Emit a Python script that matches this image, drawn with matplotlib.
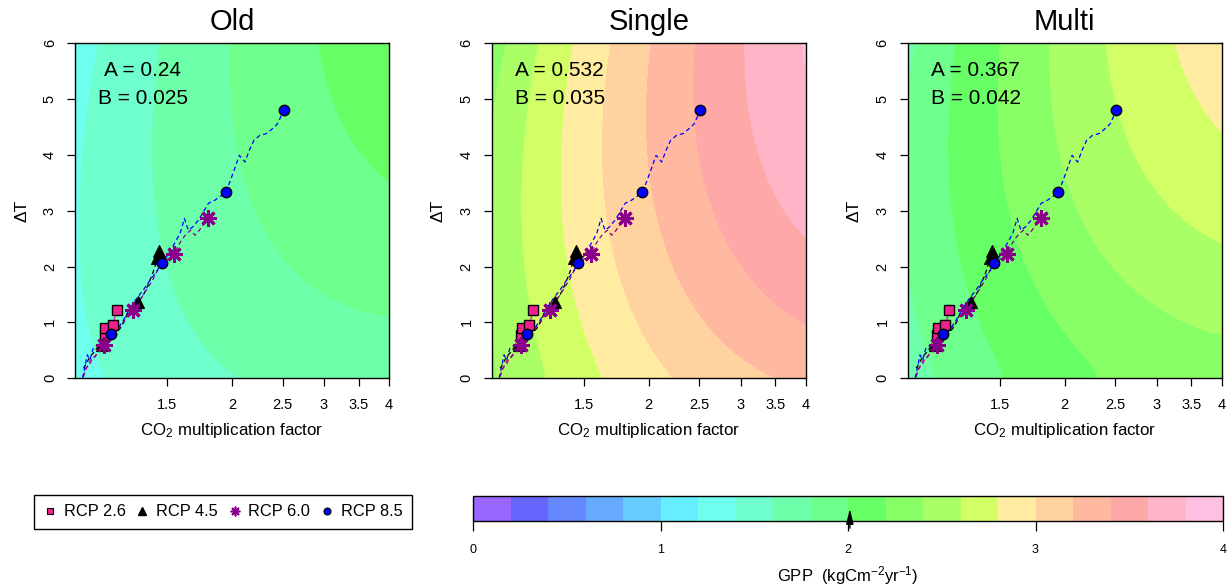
import numpy as np
import matplotlib
matplotlib.use("Agg")
import matplotlib.pyplot as plt
from matplotlib.lines import Line2D
from matplotlib.ticker import NullLocator

plt.rcParams["font.family"] = ["Liberation Sans", "DejaVu Sans"]
plt.rcParams["mathtext.fontset"] = "custom"
plt.rcParams["mathtext.rm"] = "Liberation Sans"
plt.rcParams["mathtext.it"] = "Liberation Sans:italic"
plt.rcParams["mathtext.bf"] = "Liberation Sans:bold"

# ---------------------------------------------------------------- data
panel_names = ["Old", "Single", "Multi"]
param_A = [0.24, 0.532, 0.367]
param_B = [0.025, 0.035, 0.042]

# GPP isoline samples (level, CO2 factor, dT) for each parameterisation
old_level = [1.4, 1.4, 1.4, 1.4, 1.4,
             1.6, 1.6, 1.6, 1.6, 1.6, 1.6, 1.6,
             1.8, 1.8, 1.8, 1.8,
             2.0, 2.0, 2.0]
old_co2 = [1.150, 1.06, 1.022, 1.045, 1.108,
           2.117, 1.87, 1.686, 1.52, 1.445, 1.433, 1.455,
           4.0, 2.61, 2.075, 1.99,
           4.0, 3.22, 2.91]
old_dT = [0.0, 1.06, 2.56, 4.35, 6.0,
          0.0, 0.47, 0.95, 1.61, 2.32, 4.35, 6.0,
          1.06, 1.96, 3.75, 6.0,
          3.63, 4.65, 6.0]

single_level = [2.4, 2.4,
                2.6, 2.6, 2.6, 2.6,
                2.8, 2.8, 2.8, 2.8,
                3.0, 3.0, 3.0, 3.0,
                3.2, 3.2, 3.2, 3.2,
                3.4, 3.4, 3.4,
                3.6, 3.6,
                3.8]
single_co2 = [1.0, 1.038,
              1.265, 1.22, 1.141, 1.246,
              1.637, 1.544, 1.362, 1.445,
              2.248, 2.07, 1.649, 1.711,
              3.418, 2.99, 2.012, 2.04,
              4.0, 2.51, 2.455,
              4.0, 3.037,
              3.955]
single_dT = [3.6, 6.0,
             0.0, 0.47, 3.16, 6.0,
             0.0, 0.47, 3.16, 6.0,
             0.0, 0.47, 3.16, 6.0,
             0.0, 0.47, 3.16, 6.0,
             1.0, 3.46, 6.0,
             2.56, 6.0,
             6.0]

multi_level = [1.8, 1.8,
               2.0, 2.0, 2.0, 2.0,
               2.2, 2.2, 2.2,
               2.4, 2.4, 2.4,
               2.6, 2.6,
               2.8, 2.8]
multi_co2 = [1.119, 1.0,
             1.537, 1.357, 1.214, 1.232,
             2.248, 1.537, 1.514,
             4.0, 2.032, 1.889,
             4.0, 2.406,
             4.0, 3.209]
multi_dT = [0.0, 1.79,
            0.0, 1.37, 3.76, 6.0,
            0.0, 3.16, 6.0,
            0.72, 3.16, 6.0,
            2.5, 6.0,
            4.47, 6.0]

# Scenario trajectories (CO2 multiplication factor, global warming)
rcp26_co2 = [1.034, 1.045, 1.056, 1.068, 1.081, 1.097, 1.113, 1.125, 1.137,
             1.147, 1.159, 1.170, 1.181, 1.188, 1.198]
rcp26_dT = [0.03, 0.12, 0.21, 0.24, 0.36, 0.42, 0.51, 0.60, 0.74,
            0.83, 0.89, 1.01, 0.92, 1.05, 1.16]
rcp45_co2 = [1.038, 1.053, 1.068, 1.084, 1.108, 1.133, 1.167, 1.193, 1.220,
             1.247, 1.265, 1.294, 1.323, 1.352, 1.376, 1.397, 1.413, 1.423,
             1.439, 1.447]
rcp45_dT = [0.18, 0.27, 0.39, 0.45, 0.57, 0.63, 0.69, 0.80, 0.89,
            1.04, 1.22, 1.31, 1.37, 1.49, 1.64, 1.79, 1.91, 2.00,
            2.12, 2.23]
rcp60_co2 = [1.038, 1.050, 1.061, 1.072, 1.088, 1.104, 1.137, 1.159, 1.184,
             1.211, 1.238, 1.290, 1.323, 1.352, 1.383, 1.409, 1.435, 1.466,
             1.499, 1.548, 1.578, 1.608, 1.637, 1.667, 1.699, 1.732, 1.763,
             1.802]
rcp60_dT = [0.03, 0.18, 0.24, 0.33, 0.36, 0.45, 0.60, 0.69, 0.80,
            0.89, 1.01, 1.22, 1.37, 1.49, 1.64, 1.76, 1.91, 2.03,
            2.13, 2.22, 2.38, 2.50, 2.59, 2.65, 2.56, 2.65, 2.76,
            2.87]
rcp85_co2 = [1.034, 1.045, 1.056, 1.068, 1.084, 1.108, 1.133, 1.171, 1.202,
             1.238, 1.275, 1.313, 1.352, 1.393, 1.434, 1.466, 1.499, 1.544,
             1.590, 1.621, 1.649, 1.682, 1.724, 1.763, 1.802, 1.856, 1.902,
             1.945, 1.982, 2.018, 2.066, 2.118, 2.159, 2.204, 2.263, 2.331,
             2.393, 2.443, 2.472, 2.512]
rcp85_dT = [0.00, 0.21, 0.42, 0.33, 0.54, 0.60, 0.69, 0.79, 0.86,
            1.04, 1.25, 1.43, 1.58, 1.76, 1.91, 2.07, 2.18, 2.38,
            2.59, 2.86, 2.65, 2.71, 2.83, 2.98, 3.13, 3.19, 3.26,
            3.33, 3.52, 3.72, 3.99, 3.87, 4.08, 4.26, 4.35, 4.38,
            4.47, 4.55, 4.65, 4.80]

# Period means marked on each trajectory
rcp26_pts_co2 = [1.140, 1.143, 1.181, 1.202]
rcp26_pts_dT = [0.77, 0.90, 0.95, 1.23]
rcp45_pts_co2 = [1.128, 1.323, 1.437, 1.452]
rcp45_pts_dT = [0.60, 1.37, 2.15, 2.28]
rcp60_pts_co2 = [1.137, 1.294, 1.548, 1.802]
rcp60_pts_dT = [0.59, 1.22, 2.22, 2.87]
rcp85_pts_co2 = [1.171, 1.466, 1.945, 2.512]
rcp85_pts_dT = [0.79, 2.07, 3.33, 4.80]

gpp_present = 2.01

gpp_levels = np.round(np.arange(0.0, 4.0001, 0.2), 1)
gpp_colours = ["#9966FF", "#6666FF", "#6688FF", "#66AAFF", "#66CCFF",
               "#66EEFF", "#6EFFEE", "#6EFFCC", "#6EFFAA", "#6EFF8C",
               "#66FF66", "#88FF66", "#AAFF66", "#D2FF66", "#FFECA0",
               "#FFD2A0", "#FFB9A0", "#FFA8A8", "#FFB4C8", "#FFC0E1"]

x_ticks = [1.5, 2, 2.5, 3, 3.5, 4]
x_tick_labels = ["1.5", "2", "2.5", "3", "3.5", "4"]
y_ticks = [0, 1, 2, 3, 4, 5, 6]

# ---------------------------------------------------------------- helpers
def _basis(u, t, s):
    # ln(CO2) up to second order, warming with a saturating sqrt term
    return np.stack([np.ones_like(u), u, t, u * u, t * t, u * t, s, u * s], axis=-1)

def response_surface(level, co2, dT):
    """Smooth GPP response in ln(CO2) and dT through the isoline samples."""
    u = np.log(np.asarray(co2, float))
    t = np.asarray(dT, float)
    X = _basis(u, t, np.sqrt(t))
    coef = np.linalg.lstsq(X, np.asarray(level, float), rcond=None)[0]

    def gpp(c, temp):
        return _basis(np.log(c), temp, np.sqrt(temp)) @ coef
    return gpp

surfaces = [response_surface(old_level, old_co2, old_dT),
            response_surface(single_level, single_co2, single_dT),
            response_surface(multi_level, multi_co2, multi_dT)]

scenarios = [
    ("RCP 2.6", rcp26_co2, rcp26_dT, rcp26_pts_co2, rcp26_pts_dT,
     "#FF1493", dict(marker="s", ms=6.5, mfc="#F0208C", mec="black", mew=1.0)),
    ("RCP 4.5", rcp45_co2, rcp45_dT, rcp45_pts_co2, rcp45_pts_dT,
     "black", dict(marker="^", ms=8.5, mfc="black", mec="black", mew=0.8)),
    ("RCP 6.0", rcp60_co2, rcp60_dT, rcp60_pts_co2, rcp60_pts_dT,
     "#8B008B", dict(marker=(8, 2, 0), ms=12, mfc="#8B008B", mec="#8B008B", mew=2.2)),
    ("RCP 8.5", rcp85_co2, rcp85_dT, rcp85_pts_co2, rcp85_pts_dT,
     "#0000FF", dict(marker="o", ms=7.5, mfc="#0000FF", mec="black", mew=1.0)),
]

# ---------------------------------------------------------------- figure
W, H = 1232, 587
fig = plt.figure(figsize=(W / 100, H / 100), dpi=100)

def fig_rect(left, top, right, bottom):
    return [left / W, 1 - bottom / H, (right - left) / W, (bottom - top) / H]

panel_lefts = [75.0, 491.7, 907.7]
cgrid = np.geomspace(1.0, 4.0, 500)
tgrid = np.linspace(0.0, 6.0, 500)
CC, TT = np.meshgrid(cgrid, tgrid)

cs = None
for i, name in enumerate(panel_names):
    left = panel_lefts[i]
    ax = fig.add_axes(fig_rect(left, 43, left + 314, 378.3))
    Z = np.clip(surfaces[i](CC, TT), 0.001, 3.999)
    cs = ax.contourf(CC, TT, Z, levels=gpp_levels, colors=gpp_colours)

    for label, lc, lt, pc, pt, colour, mk in scenarios:
        ax.plot(lc, lt, color=colour, lw=0.9, ls=(0, (3.5, 2.5)), zorder=3)
    for label, lc, lt, pc, pt, colour, mk in scenarios:
        ax.plot(pc, pt, ls="none", zorder=4, **mk)

    ax.set_xscale("log")
    ax.set_xlim(1.0, 4.0)
    ax.set_ylim(0, 6)
    ax.set_xticks(x_ticks)
    ax.set_xticklabels(x_tick_labels)
    ax.xaxis.set_minor_locator(NullLocator())
    ax.set_yticks(y_ticks)
    ax.tick_params(axis="both", direction="out", length=6, width=0.9,
                   labelsize=10.5, color="black")
    ax.tick_params(axis="x", pad=8)
    ax.tick_params(axis="y", pad=7, labelrotation=90)
    for lab in ax.get_yticklabels():
        lab.set_va("center")
    for sp in ax.spines.values():
        sp.set_linewidth(1.0)
        sp.set_color("black")

    ax.set_title(name, fontsize=21, pad=9)
    ax.set_xlabel("CO$_2$ multiplication factor", fontsize=12.2, labelpad=7)
    ax.set_ylabel("\u0394T", fontsize=12.5, labelpad=10)

    ax.text(1.35, 5.5, f"A = {param_A[i]:g}", fontsize=15, ha="center",
            va="center", zorder=5)
    ax.text(1.35, 5.0, f"B = {param_B[i]:g}", fontsize=15, ha="center",
            va="center", zorder=5)

# ---------------------------------------------------------------- legend
handles = [Line2D([], [], ls="none", marker="s", ms=5, mfc="#F0208C", mec="black", mew=0.8),
           Line2D([], [], ls="none", marker="^", ms=5.5, mfc="black", mec="black"),
           Line2D([], [], ls="none", marker=(8, 2, 0), ms=7, mec="#8B008B", mew=1.2),
           Line2D([], [], ls="none", marker="o", ms=5, mfc="#0000FF", mec="black", mew=0.8)]
labels = [s[0] for s in scenarios]
leg = fig.legend(handles, labels, ncol=4, loc="center",
                 bbox_to_anchor=(223 / W, 1 - 512 / H), fontsize=11.8,
                 frameon=True, fancybox=False, edgecolor="black", framealpha=1,
                 handlelength=0.8, handletextpad=0.45, columnspacing=0.6,
                 borderpad=0.6, borderaxespad=0)
leg.get_frame().set_linewidth(1.0)

# ---------------------------------------------------------------- colour bar
cax = fig.add_axes(fig_rect(473, 495.5, 1223, 520.5))
cb = fig.colorbar(cs, cax=cax, orientation="horizontal", ticks=[0, 1, 2, 3, 4])
cb.outline.set_linewidth(1.0)
cb.outline.set_edgecolor("black")
cax.tick_params(axis="x", direction="out", length=7, width=0.9, labelsize=9, pad=10)
cax.set_xticklabels(["0", "1", "2", "3", "4"])
cb.set_label("GPP  (kgCm$^{-2}$yr$^{-1}$)", fontsize=12, labelpad=6)
cax.annotate("", xy=(gpp_present, 0.58), xycoords=("data", "axes fraction"),
             xytext=(gpp_present, -0.42), textcoords=("data", "axes fraction"),
             arrowprops=dict(arrowstyle="-|>,head_length=0.9,head_width=0.22",
                             color="black", lw=1.0, mutation_scale=10),
             annotation_clip=False)

fig.savefig("out.png", dpi=100)
